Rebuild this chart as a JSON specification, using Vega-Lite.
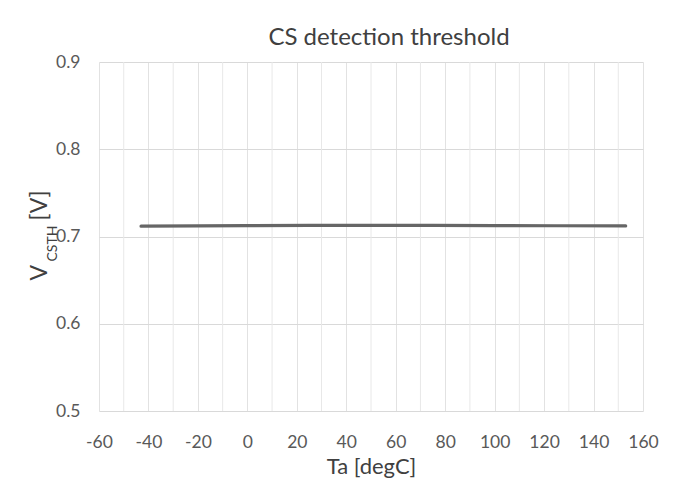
{
  "$schema": "https://vega.github.io/schema/vega-lite/v6.json",
  "width": 544,
  "height": 349,
  "autosize": {"type": "none"},
  "padding": {"left": 99, "top": 62, "right": 35, "bottom": 86},
  "background": "white",
  "config": {
    "view": {"stroke": null},
    "font": "Lato"
  },
  "title": {
    "text": "CS detection threshold",
    "font": "Lato",
    "fontSize": 24,
    "fontWeight": "normal",
    "color": "#404040",
    "anchor": "middle",
    "dx": 18,
    "offset": 3
  },
  "layer": [
    {
      "data": {
        "values": [
          {"g": -50}, {"g": -30}, {"g": -10}, {"g": 10}, {"g": 30}, {"g": 50},
          {"g": 70}, {"g": 90}, {"g": 110}, {"g": 130}, {"g": 150}
        ]
      },
      "mark": {"type": "rule", "color": "#e8e8e8", "strokeWidth": 1},
      "encoding": {
        "x": {
          "field": "g",
          "type": "quantitative",
          "scale": {"domain": [-60, 160], "nice": false, "zero": false},
          "axis": {
            "values": [-60, -40, -20, 0, 20, 40, 60, 80, 100, 120, 140, 160],
            "labelExpr": "toString(datum.value)",
            "grid": true,
            "gridColor": "#e2e2e2",
            "gridWidth": 1,
            "ticks": false,
            "domain": false,
            "labelFont": "Lato",
            "labelFontSize": 17.5,
            "labelColor": "#595959",
            "labelPadding": 22,
            "labelFlush": false,
            "labelOverlap": false,
            "title": "Ta [degC]",
            "titleFont": "Lato",
            "titleFontSize": 22,
            "titleFontWeight": "normal",
            "titleColor": "#404040",
            "titlePadding": 6
          }
        }
      }
    },
    {
      "data": {
        "values": [
          {"Ta": -43, "V": 0.7118},
          {"Ta": -20, "V": 0.7121},
          {"Ta": 0, "V": 0.7124},
          {"Ta": 25, "V": 0.7127},
          {"Ta": 50, "V": 0.7128},
          {"Ta": 75, "V": 0.7127},
          {"Ta": 100, "V": 0.7125},
          {"Ta": 125, "V": 0.7123},
          {"Ta": 153, "V": 0.7121}
        ]
      },
      "mark": {"type": "line", "color": "#666666", "strokeWidth": 3.2, "strokeCap": "round"},
      "encoding": {
        "x": {"field": "Ta", "type": "quantitative"},
        "y": {
          "field": "V",
          "type": "quantitative",
          "scale": {"domain": [0.5, 0.9], "nice": false, "zero": false},
          "axis": {
            "values": [0.5, 0.6, 0.7, 0.8, 0.9],
            "format": ".1f",
            "grid": true,
            "gridColor": "#d9d9d9",
            "ticks": false,
            "domain": false,
            "labelFont": "Lato",
            "labelFontSize": 17.5,
            "labelColor": "#595959",
            "labelPadding": 19,
            "labelFlush": false,
            "title": null
          }
        }
      }
    },
    {
      "data": {"values": [{}]},
      "mark": {"type": "text", "text": "V", "angle": 270, "align": "left", "baseline": "alphabetic", "font": "Lato", "fontSize": 23, "color": "#404040", "dx": -44, "dy": -52},
      "encoding": {"x": {"datum": -60, "type": "quantitative"}, "y": {"datum": 0.7, "type": "quantitative"}}
    },
    {
      "data": {"values": [{}]},
      "mark": {"type": "text", "text": "CSTH", "angle": 270, "align": "left", "baseline": "alphabetic", "font": "Lato", "fontSize": 14, "color": "#404040", "dx": -25, "dy": -42},
      "encoding": {"x": {"datum": -60, "type": "quantitative"}, "y": {"datum": 0.7, "type": "quantitative"}}
    },
    {
      "data": {"values": [{}]},
      "mark": {"type": "text", "text": "[V]", "angle": 270, "align": "left", "baseline": "alphabetic", "font": "Lato", "fontSize": 23, "color": "#404040", "dx": 16, "dy": -52},
      "encoding": {"x": {"datum": -60, "type": "quantitative"}, "y": {"datum": 0.7, "type": "quantitative"}}
    }
  ]
}
